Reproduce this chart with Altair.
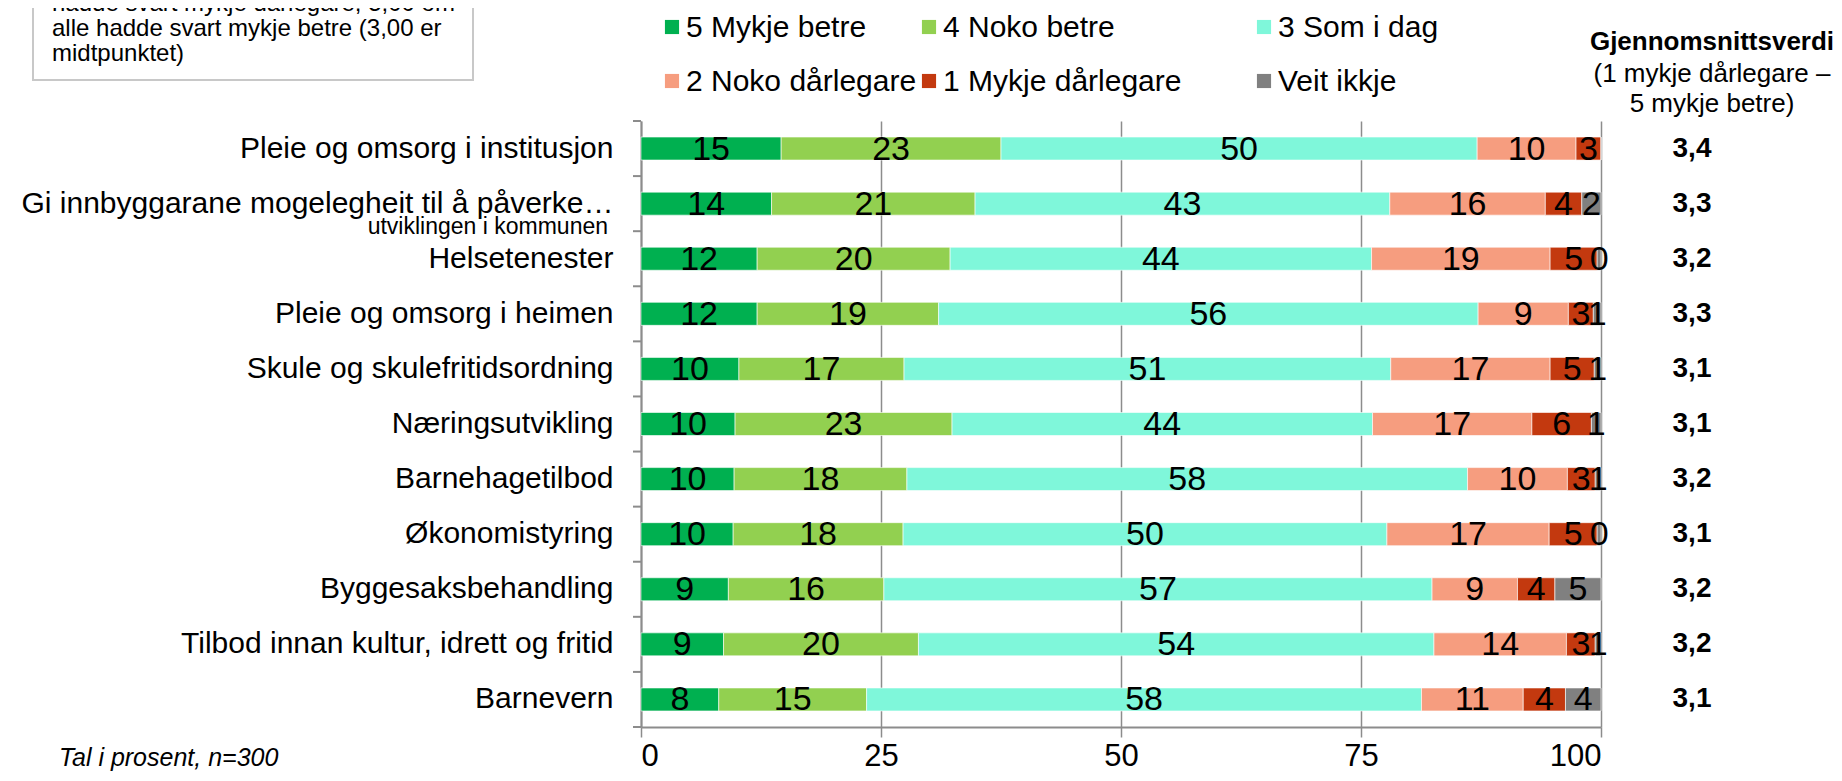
import altair as alt
import pandas as pd

categories = [
    "Pleie og omsorg i institusjon",
    "Gi innbyggarane mogelegheit til å påverke…",
    "Helsetenester",
    "Pleie og omsorg i heimen",
    "Skule og skulefritidsordning",
    "Næringsutvikling",
    "Barnehagetilbod",
    "Økonomistyring",
    "Byggesaksbehandling",
    "Tilbod innan kultur, idrett og fritid",
    "Barnevern",
]
series = ["5 Mykje betre", "4 Noko betre", "3 Som i dag",
          "2 Noko dårlegare", "1 Mykje dårlegare", "Veit ikkje"]
colors = ["#00B050", "#92D050", "#7FF7DA", "#F69D7F", "#C3390F", "#808080"]

mykje_betre = [14.6, 13.6, 12.1, 12.1, 10.2, 9.8, 9.7, 9.6, 9.1, 8.6, 8.1]
noko_betre = [22.9, 21.2, 20.1, 18.9, 17.2, 22.6, 18.0, 17.7, 16.2, 20.3, 15.4]
som_i_dag = [49.6, 43.2, 43.9, 56.2, 50.7, 43.8, 58.4, 50.4, 57.1, 53.7, 57.8]
noko_darlegare = [10.3, 16.2, 18.6, 9.4, 16.6, 16.6, 10.4, 16.9, 8.9, 13.8, 10.6]
mykje_darlegare = [2.6, 3.8, 4.9, 2.6, 4.6, 6.2, 2.9, 5.0, 3.9, 3.0, 4.4]
veit_ikkje = [0.0, 2.0, 0.4, 0.8, 0.7, 1.0, 0.6, 0.4, 4.8, 0.6, 3.7]
snitt = ["3,4", "3,3", "3,2", "3,3", "3,1", "3,1", "3,2", "3,1", "3,2", "3,2", "3,1"]

x_ticks = [0, 25, 50, 75, 100]
snitt_title = "Gjennomsnittsverdi"
snitt_sub = "(1 mykje dårlegare –\n5 mykje betre)"
note_text = "hadde svart mykje dårlegare, 5,00 om\nalle hadde svart mykje betre (3,00 er\nmidtpunktet)"
source_text = "Tal i prosent, n=300"
label2_text = "utviklingen i kommunen"

value_lists = [mykje_betre, noko_betre, som_i_dag, noko_darlegare, mykje_darlegare, veit_ikkje]
rows = []
for i, kat in enumerate(categories):
    acc = 0.0
    for j, serie in enumerate(series):
        v = value_lists[j][i]
        rows.append({"kat": kat, "serie": serie, "ord": j, "verdi": v,
                     "v0": acc, "v1": acc + v, "mid": acc + v / 2,
                     "snitt": snitt[i]})
        acc += v
df = pd.DataFrame(rows)

FONT = "Liberation Sans, Arial, Helvetica, sans-serif"
GRAY = "#8C8C8C"
W, H = 960, 606
STEP = H / len(categories)

y_axis = alt.Axis(
    title=None, ticks=False, domainColor=GRAY, domainWidth=2,
    labelFontSize=30, labelColor="#000000", labelPadding=28, labelLimit=900, grid=False,
)
y_enc = alt.Y("kat:N", sort=categories,
              scale=alt.Scale(paddingInner=0, paddingOuter=0), axis=y_axis)

x_axis = alt.Axis(
    title=None, values=x_ticks, grid=True, gridColor=GRAY, gridWidth=1.5,
    domainColor=GRAY, domainWidth=2, tickColor=GRAY, tickWidth=1.5, tickSize=10,
    labelFontSize=31, labelColor="#000000", labelPadding=4, format="d",
)
x_scale = alt.Scale(domain=[0, 100], nice=False)

base = alt.Chart(df)

bars = base.mark_bar(size=23, stroke="#FFFFFF", strokeWidth=0.6).encode(
    x=alt.X("v0:Q", scale=x_scale, axis=x_axis),
    x2="v1:Q",
    y=y_enc,
    color=alt.Color("serie:N", scale=alt.Scale(domain=series, range=colors), legend=None),
)

labels = base.transform_filter("datum.verdi > 0").mark_text(
    fontSize=34, color="#000000", baseline="middle", align="center", dy=1
).encode(
    x=alt.X("mid:Q", scale=x_scale, axis=x_axis),
    y=y_enc,
    text=alt.Text("verdi:Q", format=".0f"),
)

avg = base.transform_filter("datum.ord == 0").mark_text(
    fontSize=28, fontWeight="bold", color="#000000", align="center", baseline="middle"
).encode(x=alt.value(1051), y=y_enc, text="snitt:N")

# small ticks on the category axis, at the band boundaries
cat_ticks = base.transform_filter("datum.ord == 0").mark_rule(
    color=GRAY, strokeWidth=2, yOffset=-STEP / 2
).encode(x=alt.value(-8), x2=alt.value(0), y=y_enc)
last_tick = alt.Chart(pd.DataFrame({"a": [0]})).mark_rule(color=GRAY, strokeWidth=2).encode(
    x=alt.value(-8), x2=alt.value(0), y=alt.value(H))

# legend drawn by hand: 3 columns x 2 rows
leg_cols = [24, 281, 616]
leg_rows = [-94, -40]
legend_layers = []
for k, (serie, col) in enumerate(zip(series, colors)):
    cx = leg_cols[k % 3]
    cy = leg_rows[k // 3]
    ldf = pd.DataFrame({"t": [serie]})
    legend_layers.append(
        alt.Chart(ldf).mark_square(size=200, opacity=1, color=col).encode(
            x=alt.value(cx + 7), y=alt.value(cy))
    )
    legend_layers.append(
        alt.Chart(ldf).mark_text(fontSize=30, color="#000000", align="left", baseline="middle").encode(
            x=alt.value(cx + 21), y=alt.value(cy + 1), text="t:N")
    )

head = alt.Chart(pd.DataFrame({"t": [snitt_title]})).mark_text(
    fontSize=26, fontWeight="bold", color="#000000", align="center", baseline="alphabetic"
).encode(x=alt.value(1071), y=alt.value(-71), text="t:N")

sub = alt.Chart(pd.DataFrame({"t": [snitt_sub]})).mark_text(
    fontSize=26, color="#000000", align="center", baseline="alphabetic",
    lineBreak="\n", lineHeight=30
).encode(x=alt.value(1071), y=alt.value(-39), text="t:N")

box = alt.Chart(pd.DataFrame({"a": [0]})).mark_rect(
    fill="#FFFFFF", stroke="#C8C8C8", strokeWidth=2
).encode(x=alt.value(-608), x2=alt.value(-168), y=alt.value(-220), y2=alt.value(-41))

note = alt.Chart(pd.DataFrame({"t": [note_text]})).mark_text(
    fontSize=24, color="#000000", align="left", baseline="alphabetic",
    lineBreak="\n", lineHeight=25
).encode(x=alt.value(-589), y=alt.value(-110), text="t:N")

source = alt.Chart(pd.DataFrame({"t": [source_text]})).mark_text(
    fontSize=25, fontStyle="italic", color="#000000", align="left", baseline="middle"
).encode(x=alt.value(-582), y=alt.value(637), text="t:N")

label2 = alt.Chart(pd.DataFrame({"t": [label2_text]})).mark_text(
    fontSize=23, color="#000000", align="right", baseline="middle"
).encode(x=alt.value(-33), y=alt.value(106), text="t:N")

chart = alt.layer(
    bars, labels, avg, cat_ticks, last_tick, box, head, sub, note, source, label2, *legend_layers
).properties(
    width=W, height=H,
    autosize=alt.AutoSizeParams(type="none"),
    padding={"left": 633, "top": 113, "right": 233, "bottom": 46},
).configure(font=FONT).configure_view(stroke=None)

chart.save("out.html", embed_options={"renderer": "svg", "actions": False})
